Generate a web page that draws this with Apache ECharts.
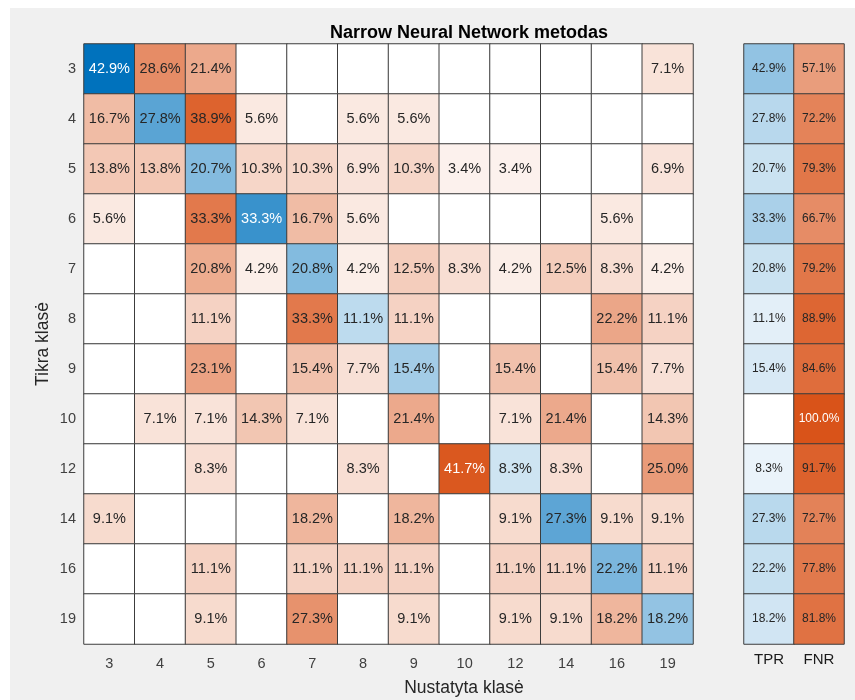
<!DOCTYPE html>
<html>
<head>
<meta charset="utf-8">
<script src="https://cdn.jsdelivr.net/npm/echarts@6/dist/echarts.min.js"></script>
<style>
  html, body { margin: 0; padding: 0; background: #ffffff; }
  #chart { width: 855px; height: 700px; }
</style>
</head>
<body>
<div id="chart"></div>
<script>
// Class labels (true class on rows, predicted class on columns)
const classes = ['3', '4', '5', '6', '7', '8', '9', '10', '12', '14', '16', '19'];

// Row-normalised confusion matrix, percent (null = empty cell)
const row3  = [42.9, 28.6, 21.4, null, null, null, null, null, null, null, null, 7.1];
const row4  = [16.7, 27.8, 38.9, 5.6, null, 5.6, 5.6, null, null, null, null, null];
const row5  = [13.8, 13.8, 20.7, 10.3, 10.3, 6.9, 10.3, 3.4, 3.4, null, null, 6.9];
const row6  = [5.6, null, 33.3, 33.3, 16.7, 5.6, null, null, null, null, 5.6, null];
const row7  = [null, null, 20.8, 4.2, 20.8, 4.2, 12.5, 8.3, 4.2, 12.5, 8.3, 4.2];
const row8  = [null, null, 11.1, null, 33.3, 11.1, 11.1, null, null, null, 22.2, 11.1];
const row9  = [null, null, 23.1, null, 15.4, 7.7, 15.4, null, 15.4, null, 15.4, 7.7];
const row10 = [null, 7.1, 7.1, 14.3, 7.1, null, 21.4, null, 7.1, 21.4, null, 14.3];
const row12 = [null, null, 8.3, null, null, 8.3, null, 41.7, 8.3, 8.3, null, 25.0];
const row14 = [9.1, null, null, null, 18.2, null, 18.2, null, 9.1, 27.3, 9.1, 9.1];
const row16 = [null, null, 11.1, null, 11.1, 11.1, 11.1, null, 11.1, 11.1, 22.2, 11.1];
const row19 = [null, null, 9.1, null, 27.3, null, 9.1, null, 9.1, 9.1, 18.2, 18.2];
const matrix = [row3, row4, row5, row6, row7, row8, row9, row10, row12, row14, row16, row19];

// Per-class summary: true positive rate and false negative rate, percent
const summaryLabels = ['TPR', 'FNR'];
const tpr = [42.9, 27.8, 20.7, 33.3, 20.8, 11.1, 15.4, 0, 8.3, 27.3, 22.2, 18.2];
const fnr = [57.1, 72.2, 79.3, 66.7, 79.2, 88.9, 84.6, 100.0, 91.7, 72.7, 77.8, 81.8];

// Colour ramps: white -> blue (correct), white -> orange (wrong)
const BLUE = [0, 114, 189];
const ORANGE = [217, 83, 25];
function shade(base, t) {
  return base.map(function (b) { return Math.round(255 - t * (255 - b)); });
}
function css(rgb) { return 'rgb(' + rgb.join(',') + ')'; }
function textOn(rgb) {
  const lum = 0.299 * rgb[0] + 0.587 * rgb[1] + 0.114 * rgb[2];
  return lum < 126.8 ? '#ffffff' : '#262626';
}

let maxMain = 0;
matrix.forEach(function (r) { r.forEach(function (v) { if (v != null && v > maxMain) maxMain = v; }); });

const mainData = [];
matrix.forEach(function (r, ri) {
  r.forEach(function (v, ci) {
    if (v == null) {
      mainData.push({ value: [ci, ri, 0], itemStyle: { color: '#ffffff' } });
    } else {
      const rgb = shade(ri === ci ? BLUE : ORANGE, v / maxMain);
      mainData.push({ value: [ci, ri, v], itemStyle: { color: css(rgb) }, label: { color: textOn(rgb) } });
    }
  });
});

const sideData = [];
[tpr, fnr].forEach(function (col, ci) {
  col.forEach(function (v, ri) {
    if (!v) {
      sideData.push({ value: [ci, ri, 0], itemStyle: { color: '#ffffff' } });
    } else {
      const rgb = shade(ci === 0 ? BLUE : ORANGE, v / 100);
      sideData.push({ value: [ci, ri, v], itemStyle: { color: css(rgb) }, label: { color: textOn(rgb) } });
    }
  });
});

const FONT = "'Liberation Sans', Arial, Helvetica, sans-serif";
function pct(p) { return p.value[2] > 0 ? p.value[2].toFixed(1) + '%' : ''; }

const chart = echarts.init(document.getElementById('chart'), null, { renderer: 'canvas' });
chart.setOption({
  backgroundColor: '#ffffff',
  animation: false,
  textStyle: { fontFamily: FONT },
  graphic: [
    { type: 'rect', z: -10, silent: true, shape: { x: 10, y: 8, width: 845, height: 692 }, style: { fill: '#f0f0f0' } },
    { type: 'text', x: 464, y: 688, silent: true,
      style: { text: 'Nustatyta klasė', font: '17.5px ' + FONT, fill: '#262626', align: 'center', verticalAlign: 'middle' } },
    { type: 'text', x: 43, y: 344, rotation: Math.PI / 2, silent: true,
      style: { text: 'Tikra klasė', font: '17.5px ' + FONT, fill: '#262626', align: 'center', verticalAlign: 'middle' } }
  ],
  title: {
    text: 'Narrow Neural Network metodas',
    left: 464, top: 19, textAlign: 'center',
    textStyle: { fontSize: 18, fontWeight: 'bold', color: '#000000', fontFamily: FONT }
  },
  grid: [
    { left: 84, top: 44, width: 609, height: 600 },
    { left: 744, top: 44, width: 100, height: 600 }
  ],
  xAxis: [
    { type: 'category', gridIndex: 0, data: classes,
      axisLine: { show: false }, axisTick: { show: false }, splitLine: { show: false },
      axisLabel: { margin: 12, fontSize: 14.5, color: '#404040', fontFamily: FONT } },
    { type: 'category', gridIndex: 1, data: summaryLabels,
      axisLine: { show: false }, axisTick: { show: false }, splitLine: { show: false },
      axisLabel: { margin: 8, fontSize: 15, color: '#1a1a1a', fontFamily: FONT } }
  ],
  yAxis: [
    { type: 'category', gridIndex: 0, data: classes, inverse: true,
      axisLine: { show: false }, axisTick: { show: false }, splitLine: { show: false },
      axisLabel: { margin: 8, fontSize: 14.5, color: '#404040', fontFamily: FONT } },
    { type: 'category', gridIndex: 1, data: classes, inverse: true,
      axisLine: { show: false }, axisTick: { show: false }, splitLine: { show: false },
      axisLabel: { show: false } }
  ],
  series: [
    { type: 'heatmap', xAxisIndex: 0, yAxisIndex: 0, data: mainData,
      itemStyle: { borderColor: '#3c3c3c', borderWidth: 1 },
      label: { show: true, formatter: pct, fontSize: 14.5, fontFamily: FONT, color: '#262626' },
      emphasis: { disabled: true } },
    { type: 'heatmap', xAxisIndex: 1, yAxisIndex: 1, data: sideData,
      itemStyle: { borderColor: '#3c3c3c', borderWidth: 1 },
      label: { show: true, formatter: pct, fontSize: 12, fontFamily: FONT, color: '#262626' },
      emphasis: { disabled: true } }
  ]
});
</script>
</body>
</html>
